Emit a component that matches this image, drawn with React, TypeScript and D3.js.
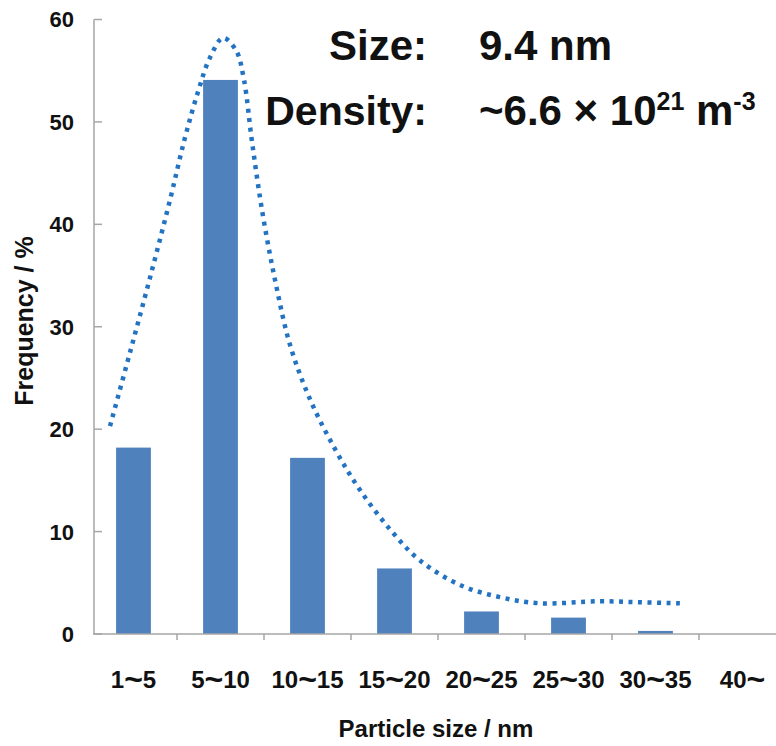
import React from "react";
import * as d3 from "d3";

const categories = ["1~5", "5~10", "10~15", "15~20", "20~25", "25~30", "30~35", "40~"];
const frequency = [18.2, 54.1, 17.2, 6.4, 2.2, 1.6, 0.3, 0];
const yTicks = [0, 10, 20, 30, 40, 50, 60];
// fitted curve, x in category-position units (0 = left edge of first band)
const curveX = [0.23, 0.46, 0.69, 0.92, 1.09, 1.24, 1.38, 1.53, 1.678, 1.77, 1.86, 1.977, 2.126, 2.3, 2.53, 2.82, 3.1, 3.45, 3.79, 4.25, 4.71, 5.17, 5.86, 6.32, 6.78];
const curveY = [20.3, 27.5, 34.8, 42.4, 48.4, 52.9, 56.3, 58.2, 57.0, 54.1, 48.2, 41.4, 34.6, 28.2, 22.9, 18.0, 14.1, 10.2, 7.2, 4.8, 3.6, 3.0, 3.2, 3.1, 3.0];

const W = 776;
const H = 746;
const FONT = "'Liberation Sans', Arial, Helvetica, sans-serif";

export default function App() {
  const x = d3.scaleBand<string>().domain(categories).range([90, 786]).padding(0);
  const xPos = d3.scaleLinear().domain([0, categories.length]).range([90, 786]);
  const y = d3.scaleLinear().domain([0, 60]).range([634, 19.5]);
  const barW = x.bandwidth() * 0.4;
  const line = d3
    .line<number>()
    .x((_, i) => xPos(curveX[i]))
    .y((v) => y(v))
    .curve(d3.curveCatmullRom.alpha(0.5));
  const axisColor = "#a6a6a6";
  const boundaries = categories.slice(1).map((c) => x(c) as number);

  return (
    <svg width={W} height={H} style={{ position: "absolute", left: 0, top: 0, background: "#fff" }} fontFamily={FONT}>
      {/* bars */}
      {categories.map((c, i) =>
        frequency[i] > 0 ? (
          <rect
            key={c}
            x={(x(c) as number) + x.bandwidth() / 2 - barW / 2}
            y={y(frequency[i])}
            width={barW}
            height={y(0) - y(frequency[i])}
            fill="#4f81bd"
          />
        ) : null
      )}
      {/* y axis */}
      <line x1={94} x2={94} y1={y(60)} y2={y(0)} stroke={axisColor} strokeWidth={1.5} />
      {yTicks.map((t) => (
        <g key={t}>
          <line x1={94} x2={102} y1={y(t)} y2={y(t)} stroke={axisColor} strokeWidth={1.5} />
          <text x={74} y={y(t)} dy="0.36em" textAnchor="end" fontSize={22} fontWeight="bold" fill="#111">
            {t}
          </text>
        </g>
      ))}
      {/* x axis */}
      <line x1={93} x2={W} y1={y(0)} y2={y(0)} stroke={axisColor} strokeWidth={1.5} />
      {boundaries.map((b, i) => (
        <line key={i} x1={b} x2={b} y1={y(0)} y2={y(0) + 6} stroke={axisColor} strokeWidth={1.5} />
      ))}
      {categories.map((c) => {
        const [a, b] = c.split("~");
        return (
          <text key={c} x={(x(c) as number) + x.bandwidth() / 2} y={688} textAnchor="middle" fontSize={24} fontWeight="bold" fill="#111">
            {a}
            <tspan fontSize={32} dy={2}>~</tspan>
            <tspan dy={-2}>{b}</tspan>
          </text>
        );
      })}
      {/* dotted curve */}
      <path d={line(curveY) || ""} fill="none" stroke="#2473c3" strokeWidth={4.5} strokeDasharray="4 5.5" />
      {/* axis titles */}
      <text x={436} y={737} textAnchor="middle" fontSize={24} fontWeight="bold" fill="#111">
        Particle size / nm
      </text>
      <text transform="translate(33,321) rotate(-90)" textAnchor="middle" fontSize={25} fontWeight="bold" fill="#111">
        Frequency / %
      </text>
      {/* annotations */}
      <text x={427} y={60} textAnchor="end" fontSize={42} fontWeight="bold" fill="#111">Size:</text>
      <text x={479} y={60} fontSize={42} fontWeight="bold" fill="#111">9.4 nm</text>
      <text x={427} y={125} textAnchor="end" fontSize={41} fontWeight="bold" fill="#111">Density:</text>
      <text x={479} y={125} fontSize={42} fontWeight="bold" fill="#111">
        ~6.6 × 10
        <tspan fontSize={25} dy={-15}>21</tspan>
        <tspan dy={15}> m</tspan>
        <tspan fontSize={25} dy={-15}>-3</tspan>
      </text>
    </svg>
  );
}
